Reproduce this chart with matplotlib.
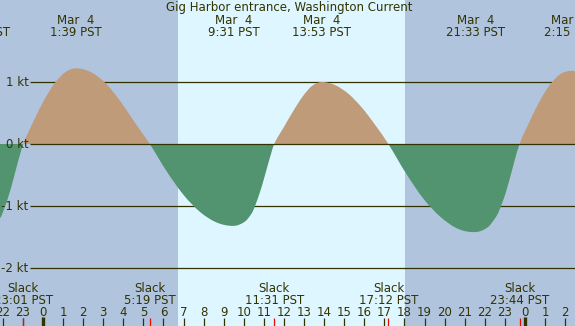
import matplotlib
matplotlib.use("Agg")
import matplotlib.pyplot as plt
from matplotlib.path import Path
from matplotlib.patches import PathPatch

# ---------------- data ----------------
title = "Gig Harbor entrance, Washington Current"

# curve samples (hours from Mar 4 00:00 PST, knots)
curve_hours = [-3.5, -3.0, -2.455, -2.119, -1.951, -1.614, -1.281, -0.983,
               -0.456, 0.070, 0.597, 1.123, 1.65,
               2.383, 3.117, 3.85, 4.583, 5.317,
               6.157, 6.997, 7.837, 8.677, 9.517,
               10.06, 10.39, 10.56, 10.89, 11.22, 11.517,
               11.99, 12.46, 12.94, 13.41, 13.883,
               14.546, 15.21, 15.873, 16.536, 17.2,
               18.07, 18.94, 19.81, 20.68, 21.55,
               22.14, 22.50, 22.685, 23.05, 23.41, 23.733,
               24.236, 24.74, 25.243, 25.746, 26.25, 26.75]
curve_kt = [-1.36, -1.40, -1.326, -1.187, -1.061, -0.732, -0.329, 0.0,
            0.377, 0.717, 0.987, 1.160, 1.22,
            1.16, 0.98, 0.69, 0.34, 0.0,
            -0.44, -0.82, -1.10, -1.27, -1.32,
            -1.25, -1.12, -1.00, -0.69, -0.31, 0.0,
            0.27, 0.53, 0.77, 0.94, 1.00,
            0.95, 0.81, 0.59, 0.31, 0.0,
            -0.47, -0.88, -1.18, -1.37, -1.42,
            -1.345, -1.204, -1.10, -0.78, -0.36, 0.0,
            0.365, 0.694, 0.955, 1.122, 1.18, 1.16]

# max current events (hours from Mar 4 00:00) and labels
max_hours = [-3.1, 1.65, 9.517, 13.883, 21.55, 26.25]
max_dates = ["Mar  3", "Mar  4", "Mar  4", "Mar  4", "Mar  4", "Mar  5"]
max_times = ["21:00 PST", "1:39 PST", "9:31 PST", "13:53 PST", "21:33 PST", "2:15 PST"]

# slack events
slack_hours = [-0.983, 5.317, 11.517, 17.2, 23.733]
slack_times = ["23:01 PST", "5:19 PST", "11:31 PST", "17:12 PST", "23:44 PST"]

# daylight
sunrise_h = 6.72
sunset_h = 18.03

# y gridlines / labels
kt_levels = [1, 0, -1, -2]
kt_labels = ["1 kt", "0 kt", "-1 kt", "-2 kt"]

# hour ticks
hour_ticks = list(range(-2, 27))

# ---------------- layout ----------------
W, H = 575, 326
PX_PER_H = 20.08
X0 = 43.0          # pixel of hour 0
PX_PER_KT = 62.0
Y0 = 144.0         # pixel of 0 kt

def hx(px):
    return (px - X0) / PX_PER_H

def ky(py):
    return (Y0 - py) / PX_PER_KT

night = "#b0c4de"
day = "#def6ff"
flood = "#bf9b7a"
ebb = "#52946f"
ink = "#333300"
FS = 8.5

fig = plt.figure(figsize=(W / 100, H / 100), dpi=100)
ax = fig.add_axes([0, 0, 1, 1])
ax.set_xlim(hx(0), hx(W))
ax.set_ylim(ky(H), ky(0))
ax.axis("off")
fig.patch.set_facecolor(night)

ax.axvspan(hx(-50), hx(W + 50), color=night, zorder=0, lw=0)
ax.axvspan(sunrise_h, sunset_h, color=day, zorder=0.5, lw=0)

# grid lines
for lv in kt_levels:
    ax.hlines(lv, hx(30), hx(W + 5), color=ink, lw=0.9, zorder=1 if lv != 0 else 4)

# smooth (Hermite) rendering of the sampled curve, one patch per lobe
n = len(curve_hours)
tang = []
for i in range(n):
    a = max(i - 1, 0)
    b = min(i + 1, n - 1)
    tang.append((curve_kt[b] - curve_kt[a]) / (curve_hours[b] - curve_hours[a]))

zero_idx = [i for i, v in enumerate(curve_kt) if v == 0.0]
bounds = [0] + zero_idx + [n - 1]
for s, e in zip(bounds[:-1], bounds[1:]):
    if e <= s:
        continue
    verts = [(curve_hours[s], 0.0), (curve_hours[s], curve_kt[s])]
    codes = [Path.MOVETO, Path.LINETO]
    for i in range(s, e):
        dx = curve_hours[i + 1] - curve_hours[i]
        verts += [(curve_hours[i] + dx / 3, curve_kt[i] + tang[i] * dx / 3),
                  (curve_hours[i + 1] - dx / 3, curve_kt[i + 1] - tang[i + 1] * dx / 3),
                  (curve_hours[i + 1], curve_kt[i + 1])]
        codes += [Path.CURVE4] * 3
    verts += [(curve_hours[e], 0.0), (curve_hours[s], 0.0)]
    codes += [Path.LINETO, Path.CLOSEPOLY]
    mid = curve_kt[(s + e) // 2]
    col = flood if mid > 0 else ebb
    ax.add_patch(PathPatch(Path(verts, codes), facecolor=col, edgecolor="none",
                           lw=0, zorder=2))

# kt labels
for lv, lab in zip(kt_levels, kt_labels):
    ax.text(hx(28.5), lv, lab, ha="right", va="center", fontsize=FS,
            color=ink, zorder=5)

# title
ax.text(hx(289), ky(11.5), title, ha="center", va="baseline", fontsize=FS,
        color=ink, zorder=5)

# max labels
for h, d, t in zip(max_hours, max_dates, max_times):
    ax.text(h, ky(24), d, ha="center", va="baseline", fontsize=FS, color=ink, zorder=5)
    ax.text(h, ky(36), t, ha="center", va="baseline", fontsize=FS, color=ink, zorder=5)

# slack labels
for h, t in zip(slack_hours, slack_times):
    ax.text(h, ky(292), "Slack", ha="center", va="baseline", fontsize=FS, color=ink, zorder=5)
    ax.text(h, ky(303.5), t, ha="center", va="baseline", fontsize=FS, color=ink, zorder=5)

# hour ticks and labels
for hr in hour_ticks:
    lab = str(hr % 24)
    ax.text(hr, ky(316), lab, ha="center", va="baseline", fontsize=FS, color=ink, zorder=5)
    if hr % 24 == 0:
        ax.vlines(hr, ky(326), ky(317), color=ink, lw=2.4, zorder=5)
    else:
        ax.vlines(hr, ky(326), ky(318), color=ink, lw=0.9, zorder=5)

for h in slack_hours:
    ax.vlines(h, ky(326), ky(318), color="red", lw=0.9, zorder=6)

fig.savefig("out.png", dpi=100, facecolor=night)
